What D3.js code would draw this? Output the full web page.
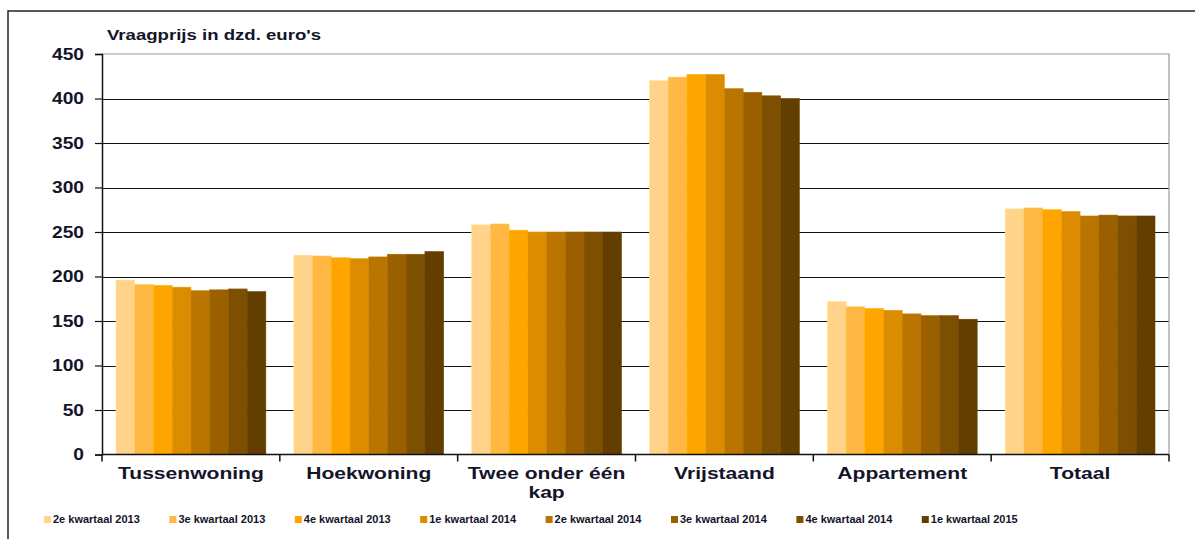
<!DOCTYPE html>
<html lang="nl">
<head>
  <meta charset="UTF-8">
  <title>Vraagprijs</title>
  <style>
    body { margin: 0; background: #fff; }
    svg text { font-family: "Liberation Sans", Arial, sans-serif; fill: #14142a; }
  </style>
</head>
<body>
  <svg id="svg" width="1195" height="539"></svg>
  <script src="https://cdn.jsdelivr.net/npm/d3@7"></script>
  <script>
    const categories = ['Tussenwoning', 'Hoekwoning', 'Twee onder één kap', 'Vrijstaand', 'Appartement', 'Totaal']
    const series = ['2e kwartaal 2013', '3e kwartaal 2013', '4e kwartaal 2013', '1e kwartaal 2014',
      '2e kwartaal 2014', '3e kwartaal 2014', '4e kwartaal 2014', '1e kwartaal 2015']
    // one array per category, values per quarter
    const tussenwoning = [196, 191, 190, 188, 184, 185, 186, 183]
    const hoekwoning = [224, 223, 221, 220, 222, 225, 225, 228]
    const tweeOnderEenKap = [258, 259, 252, 250, 250, 250, 250, 250]
    const vrijstaand = [420, 424, 427, 427, 411, 407, 403, 400]
    const appartement = [172, 166, 164, 162, 158, 156, 156, 152]
    const totaal = [276, 277, 275, 273, 268, 269, 268, 268]
    const yTicks = [0, 50, 100, 150, 200, 250, 300, 350, 400, 450]
    const colors = ['#ffd38a', '#ffb843', '#ffa500', '#db8c00', '#ba7400', '#9a6000', '#7d4f00', '#623f00']

    const values = [tussenwoning, hoekwoning, tweeOnderEenKap, vrijstaand, appartement, totaal]
    const data = categories.map((c, i) => ({ cat: c, vals: values[i] }))

    const plotLeft = 102, plotRight = 1169, plotTop = 54, plotBottom = 454.5
    const stretch = 1.24 // text in the original is drawn wide

    const svg = d3.select('#svg')

    // outer frame
    svg.append('rect')
      .attr('x', 8).attr('y', 11).attr('width', 1250).attr('height', 700)
      .attr('fill', 'none').attr('stroke', '#222').attr('stroke-width', 1.5)

    const x0 = d3.scaleBand().domain(categories).range([plotLeft, plotRight])
    const x1 = d3.scaleBand().domain(series).range([14, x0.bandwidth() - 14])
    const y = d3.scaleLinear().domain([0, 450]).range([plotBottom, plotTop])
    const color = d3.scaleOrdinal().domain(series).range(colors)

    // gridlines
    svg.append('g')
      .selectAll('line')
      .data(yTicks.filter(d => d > 0 && d < 450))
      .enter()
      .append('line')
      .attr('x1', plotLeft).attr('x2', plotRight)
      .attr('y1', d => Math.round(y(d)) + 0.5).attr('y2', d => Math.round(y(d)) + 0.5)
      .attr('stroke', '#111').attr('stroke-width', 1.2)

    // plot border (top + right)
    svg.append('path')
      .attr('d', `M${plotLeft},${plotTop}H${plotRight}V${plotBottom}`)
      .attr('fill', 'none').attr('stroke', '#999').attr('stroke-width', 1.2)

    // bars
    const groups = svg.append('g')
      .selectAll('g')
      .data(data)
      .enter()
      .append('g')
      .attr('transform', d => `translate(${x0(d.cat)},0)`)

    groups.selectAll('rect')
      .data(d => d.vals.map((v, i) => ({ s: series[i], v })))
      .enter()
      .append('rect')
      .attr('x', d => x1(d.s))
      .attr('y', d => y(d.v))
      .attr('width', x1.bandwidth())
      .attr('height', d => plotBottom - y(d.v))
      .attr('fill', d => color(d.s))
      .attr('stroke', d => d3.color(color(d.s)).brighter(0.25))
      .attr('stroke-width', 0.6)

    // left axis
    const leftAxis = d3.axisLeft(y)
      .tickValues(yTicks)
      .tickSize(7)
    const yAxis = svg.append('g')
      .attr('transform', `translate(${plotLeft},0)`)
      .call(leftAxis)
    yAxis.select('.domain').attr('stroke', '#111').attr('stroke-width', 1.5)
    yAxis.selectAll('.tick line').attr('stroke', '#111').attr('stroke-width', 1.2)
    yAxis.selectAll('.tick text')
      .attr('x', -18 / 1.2)
      .attr('transform', 'scale(1.2,1)')
      .attr('font-size', 16).attr('font-weight', 'bold')
      .attr('font-family', '"Liberation Sans", Arial, sans-serif')
      .style('fill', '#14142a')

    // bottom axis with ticks on category boundaries
    const xAxis = svg.append('g')
    xAxis.append('line')
      .attr('x1', plotLeft).attr('x2', plotRight)
      .attr('y1', plotBottom).attr('y2', plotBottom)
      .attr('stroke', '#111').attr('stroke-width', 1.5)
    xAxis.selectAll('.tk')
      .data(categories.map(c => x0(c)).concat([x0.range()[1]]))
      .enter()
      .append('line')
      .attr('class', 'tk')
      .attr('x1', d => d).attr('x2', d => d)
      .attr('y1', plotBottom).attr('y2', plotBottom + 7)
      .attr('stroke', '#111').attr('stroke-width', 1.5)

    const labels = xAxis.selectAll('.lbl')
      .data(categories)
      .enter()
      .append('g')
      .attr('class', 'lbl')
      .attr('transform', d => `translate(${x0(d) + x0.bandwidth() / 2},479) scale(${stretch},1)`)
      .append('text')
      .attr('text-anchor', 'middle')
      .attr('font-size', 17)
      .attr('font-weight', 'bold')
    labels.each(function (d) {
      const lines = d === 'Twee onder één kap' ? ['Twee onder één', 'kap'] : [d]
      const t = d3.select(this)
      lines.forEach((l, i) => {
        t.append('tspan')
          .attr('x', 0)
          .attr('dy', i === 0 ? 0 : 19)
          .text(l)
      })
    })

    // title
    svg.append('text')
      .attr('transform', `translate(107,40) scale(${stretch},1)`)
      .attr('font-size', 15).attr('font-weight', 'bold')
      .text("Vraagprijs in dzd. euro's")

    // legend
    const legend = svg.append('g')
      .selectAll('g')
      .data(series)
      .enter()
      .append('g')
      .attr('transform', (d, i) => `translate(${44 + i * 125.4},523)`)
    legend.append('rect')
      .attr('x', 0).attr('y', -7)
      .attr('width', 7).attr('height', 7)
      .attr('fill', d => color(d))
    legend.append('text')
      .attr('x', 9).attr('y', 0)
      .attr('font-size', 11).attr('font-weight', 'bold')
      .text(d => d)
  </script>
</body>
</html>
